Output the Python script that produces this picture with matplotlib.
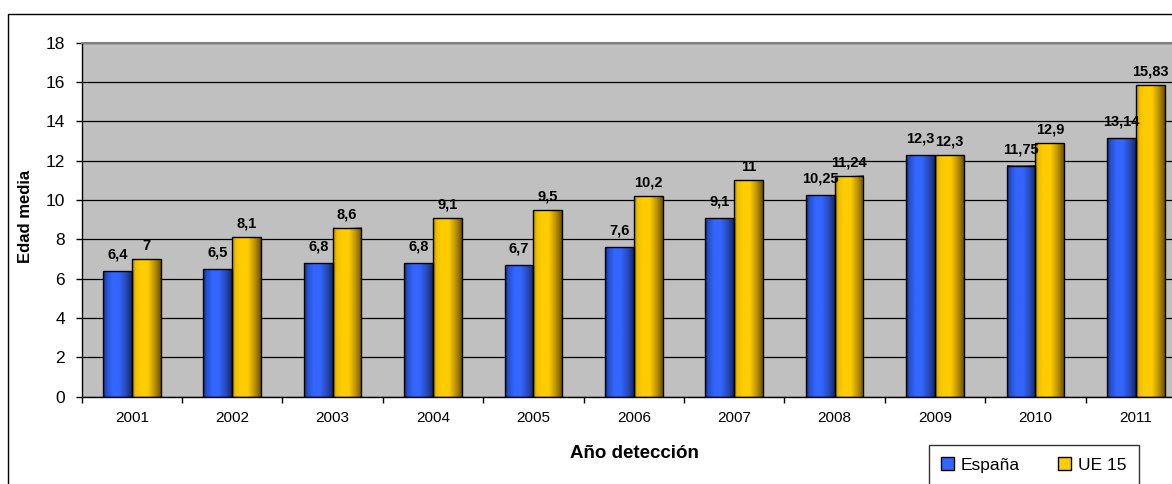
import numpy as np
import matplotlib
matplotlib.use("Agg")
import matplotlib.pyplot as plt
from matplotlib.colors import LinearSegmentedColormap
from matplotlib.patches import Patch, Rectangle

# ---- data ----
years = ["2001", "2002", "2003", "2004", "2005", "2006", "2007", "2008", "2009", "2010", "2011"]
espana = [6.4, 6.5, 6.8, 6.8, 6.7, 7.6, 9.1, 10.25, 12.3, 11.75, 13.14]
ue15 = [7, 8.1, 8.6, 9.1, 9.5, 10.2, 11, 11.24, 12.3, 12.9, 15.83]
espana_lbl = ["6,4", "6,5", "6,8", "6,8", "6,7", "7,6", "9,1", "10,25", "12,3", "11,75", "13,14"]
ue15_lbl = ["7", "8,1", "8,6", "9,1", "9,5", "10,2", "11", "11,24", "12,3", "12,9", "15,83"]
series_names = ["España", "UE 15"]
yticks = list(range(0, 19, 2))

plt.rcParams['font.family'] = ['Liberation Sans', 'DejaVu Sans']

W, H = 1172, 484
fig = plt.figure(figsize=(W / 100, H / 100), dpi=100)
fig.patch.set_facecolor('white')

# outer chart border (partially cropped in the reference)
fig.patches.append(Rectangle((8 / W, -0.2), 1.2, 1 - 14 / H + 0.2, transform=fig.transFigure,
                             fill=False, edgecolor='black', linewidth=1.0, zorder=0))

left, right = 81.7 / W, 1186 / W
bottom, top = 1 - 396.7 / H, 1 - 42.7 / H
ax = fig.add_axes([left, bottom, right - left, top - bottom])
ax.set_facecolor('#c0c0c0')

blue_cmap = LinearSegmentedColormap.from_list('b', [
    (0.0, '#172f78'), (0.12, '#2650d0'), (0.32, '#3366ff'), (0.55, '#3366ff'),
    (0.8, '#2849b8'), (1.0, '#142a70')])
yellow_cmap = LinearSegmentedColormap.from_list('y', [
    (0.0, '#b08a00'), (0.12, '#f0c000'), (0.3, '#ffcc00'), (0.55, '#ffcc00'),
    (0.8, '#b89000'), (1.0, '#6e5400')])

x = np.arange(len(years))
bw = 0.287
grad = np.linspace(0, 1, 64)[np.newaxis, :]

for vals, lbls, off, cmap, lab_off in [(espana, espana_lbl, -bw / 2, blue_cmap, 9.0),
                                       (ue15, ue15_lbl, bw / 2, yellow_cmap, 6.8)]:
    for xi, v, t in zip(x, vals, lbls):
        x0 = xi + off - bw / 2
        ax.imshow(grad, cmap=cmap, extent=[x0, x0 + bw, 0, v], aspect='auto',
                  interpolation='bilinear', zorder=2)
        ax.annotate(t, (xi + off, v), xytext=(0, lab_off), textcoords='offset points',
                    ha='center', va='baseline', fontsize=10.5, fontweight='bold', zorder=4)
    ax.bar(x + off, vals, width=bw, fill=False, edgecolor='black', linewidth=1.0, zorder=3)

ax.set_xlim(-0.5, len(years) - 0.5)
ax.set_ylim(0, 18)
ax.set_yticks(yticks)
ax.set_yticklabels([str(v) for v in yticks], fontsize=12.5)
ax.yaxis.grid(True, color='black', linewidth=0.9)
ax.set_axisbelow(True)

ax.set_xticks(np.arange(-0.5, len(years), 1.0))
ax.set_xticklabels([])
ax.set_xticks(x, minor=True)
ax.set_xticklabels(years, minor=True, fontsize=11)
ax.tick_params(axis='x', which='minor', length=0, pad=10)
ax.tick_params(axis='x', which='major', length=4, width=1, color='black', direction='out')
ax.tick_params(axis='y', length=4, width=1, color='black', direction='out', pad=8)

for s in ['left', 'bottom']:
    ax.spines[s].set_color('black')
    ax.spines[s].set_linewidth(1.0)
for s in ['top', 'right']:
    ax.spines[s].set_color('#808080')
    ax.spines[s].set_linewidth(1.5)

fig.text(634 / W, 1 - 453 / H, "Año detección", ha='center', va='center',
         fontsize=13.5, fontweight='bold')
fig.text(25.5 / W, 1 - 216 / H, "Edad media", ha='center', va='center', rotation=90,
         fontsize=12, fontweight='bold')

handles = [Patch(facecolor='#3366ff', edgecolor='black', linewidth=1.0),
           Patch(facecolor='#ffcc00', edgecolor='black', linewidth=1.0)]
leg = fig.legend(handles, series_names, loc='upper left', bbox_to_anchor=(929 / W, 1 - 445 / H),
                 ncol=2, fontsize=12.5, frameon=True, fancybox=False, handlelength=0.75,
                 handleheight=0.75, handletextpad=0.4, columnspacing=2.2, borderpad=0.7,
                 borderaxespad=0)
leg.get_frame().set_edgecolor('black')
leg.get_frame().set_linewidth(1.0)

fig.savefig('out.png', dpi=100, facecolor='white')
